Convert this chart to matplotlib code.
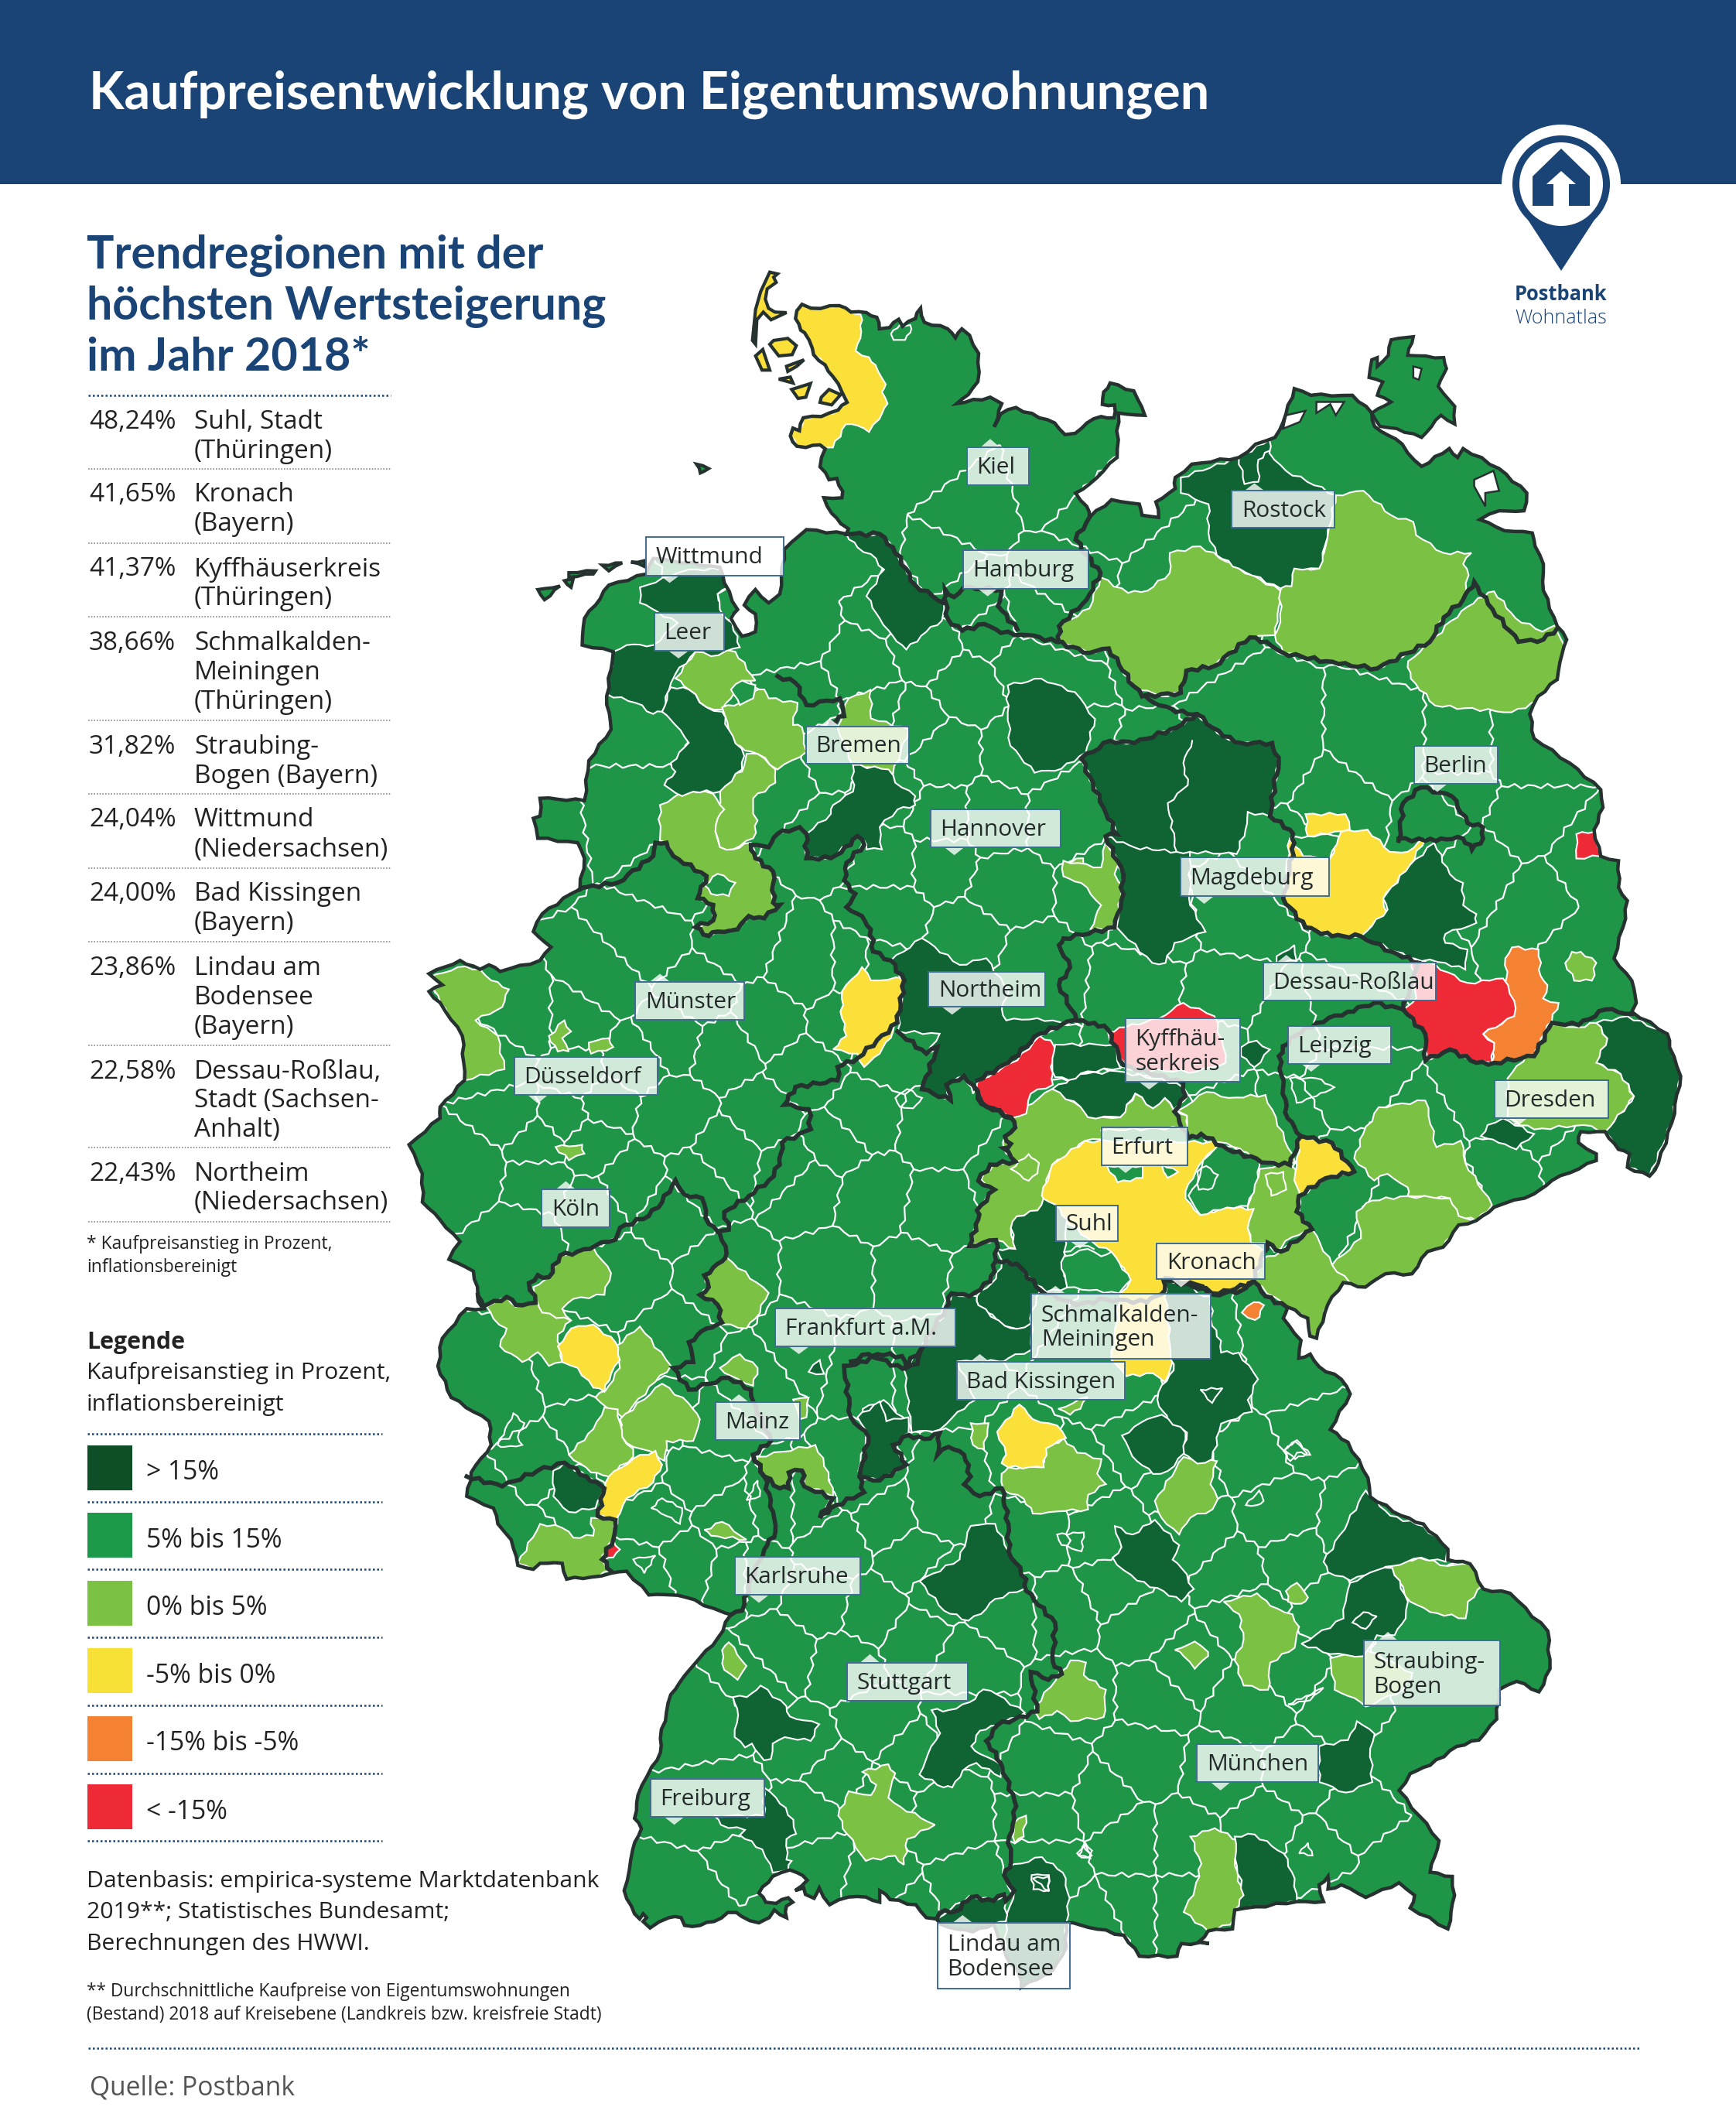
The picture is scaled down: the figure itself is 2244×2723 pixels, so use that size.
import numpy as np
import matplotlib
matplotlib.use('Agg')
import matplotlib.pyplot as plt
from matplotlib.patches import Polygon, Rectangle, Circle
from matplotlib.collections import LineCollection
from matplotlib.tri import Triangulation

plt.rcParams['font.family'] = ['Open Sans', 'DejaVu Sans']
W, H = 2244, 2723

# reading frames of the picture: x0, y0, x scale, y scale (to full pixels)
FR = {'a': (0, 0, .7156, .574), 'b': (1122, 0, .7156, .574), 'c': (500, 650, .574, .574),
      'd': (1300, 900, .574, .574), 'e': (500, 1500, .574, .5102), 'f': (1200, 1750, .574, .5422),
      'g': (780, 2150, .4464, .3333), 'h': (950, 330, .3333, .3333), 'i': (1100, 1350, .3827, .3827),
      'j': (0, 1650, .574, .684), 'p': (0, 0, 1.7368, 1.7368)}

COLORS = {'dark': '#106332', 'mid': '#1f9548', 'light': '#7bc143', 'yellow': '#fbe03a',
          'orange': '#f58233', 'red': '#ee2a36'}
NAVY = '#1a4475'
EDGE = '#25322f'

OUTLINE = [
 ('h', [(240,215),(260,190),(295,205),(405,195),(450,220),(510,222),(550,240),(560,285),(600,280),(635,248),(650,275),(700,245),(720,205),(735,260),(825,285),(855,320),(880,285),(910,310),(945,380),(942,490),(905,540),(860,575),(990,550),(1035,575),(1020,630),(1005,665),(1030,615),(1090,590),(1180,630),(1240,650),(1280,695),(1320,690),(1365,650),(1420,625),(1470,630),(1472,580),(1425,578),(1430,530),(1455,495)]),
 ('b', [(480,880),(500,935),(452,930),(450,1030),(400,1090),(375,1110),(395,1140),(400,1165),(440,1125),(490,1135),(495,1160),(525,1165),(520,1130),(555,1100),(555,1075),(585,1045),(670,1030),(700,1000),(735,985),(750,950),(770,875),(800,890),(875,890),(910,930),(915,960),(965,1000),(975,1020),(1000,1050),(1050,1010),(1065,1030),(1075,1010),(1140,1055),(1190,1110),(1185,1150),(1140,1150),(1105,1170),(1150,1195),(1200,1200),(1205,1230),(1220,1270),(1220,1330),(1245,1410),(1262,1440),(1250,1490),(1245,1530),(1210,1568)]),
 ('d', [(1180,40),(1190,95),(1270,150),(1340,210),(1345,250),(1325,300),(1340,360),(1380,370),(1380,430),(1400,460),(1390,520),(1370,590),(1410,640),(1420,690),(1410,710),(1490,760),(1495,790),(1520,855),(1500,960),(1470,1050),(1450,1080),(1400,1060),(1405,1030),(1380,1020),(1350,980),(1295,980),(1290,1005),(1330,1030),(1330,1045),(1230,1090),(1190,1120),(1100,1150),(1060,1180),(1020,1190),(985,1240),(950,1250),(915,1300),(855,1300),(810,1330),(760,1320),(725,1370),(700,1445),(685,1440),(680,1400),(635,1375),(625,1400),(665,1450),(660,1490)]),
 ('f', [(860,0),(880,30),(930,60),(950,95),(905,180),(945,210),(990,295),(995,340),(1065,385),(1115,405),(1170,465),(1170,490),(1220,500),(1250,560),(1310,570),(1395,660),(1400,750),(1375,805),(1325,780),(1285,800),(1280,870),(1240,920),(1190,935),(1130,980),(1085,1000),(1060,1040),(1105,1100),(1150,1160),(1130,1235),(1180,1245),(1185,1290),(1170,1370),(1085,1320),(1095,1290),(1060,1260),(985,1295),(930,1265),(900,1275),(900,1245),(880,1265),(890,1305),(830,1305),(690,1325),(685,1370),(630,1375),(610,1400),(632,1405),(570,1405),(560,1435),(475,1435),(440,1385),(340,1360)]),
 ('g', [(1340,1005),(1340,1100),(1300,1190),(1210,1255),(1205,1210),(1165,1130),(1130,1010),(1070,1040),(1025,1030),(975,1010),(965,990),(935,985),(905,935),(830,915),(800,880),(800,925),(760,905),(710,905),(655,935),(625,870),(610,910),(585,895),(580,870),(555,880),(590,840),(560,810),(540,800),(490,825),(450,890),(470,925),(500,930),(535,908),(548,925),(530,940),(530,985),(495,955),(480,985),(450,1005),(400,980),(385,965),(360,965),(320,1000),(280,1015),(235,1015),(225,985),(190,985),(135,1025),(115,1000),(125,985),(115,970),(105,990),(90,970),(60,880),(75,800),(85,720),(110,640),(90,600),(100,510),(140,400),(165,345),(165,290),(195,120),(220,75),(265,0)]),
 ('e', [(745,1210),(775,1150),(760,1145),(670,1105),(640,1100),(590,1100),(540,1040),(505,1045),(460,1055),(405,1060),(395,1020),(345,1020),(330,1035),(295,1025),(280,960),(250,920),(240,880),(180,850),(190,790),(235,720),(230,660),(145,600),(115,520),(125,450),(180,375),(220,375),(205,340),(195,280),(140,250),(165,205),(120,150),(80,105)]),
 ('c', [(80,1510),(50,1445),(120,1385),(120,1360),(175,1300),(170,1200),(120,1125),(95,1100),(125,1085),(95,1060),(165,1030),(210,1050),(230,1040),(255,1055),(345,1030),(370,1000),(330,965),(350,925),(415,880),(435,870),(445,800),(430,765),(340,755),(330,710),(345,705),(345,665),(445,670),(455,580),(505,510),(495,435),(510,335),(440,320),(445,260),(470,230),(500,185),(585,160),(600,125),(750,145),(760,180),(790,240),(775,260),(800,300),(830,290),(830,250),(805,230),(830,195),(860,225),(885,205),(895,105),(945,60),(1035,70)]),
 ('h', [(440,1060),(410,1040),(375,1000),(345,940),(415,940),(418,915),(395,865),(365,870),(330,820),(350,750),(330,735),(275,745),(240,740),(215,700),(225,670),(250,680),(265,630),(335,625),(400,600),(435,570),(415,530),(380,470),(350,425),(305,385),(300,360),(270,300),(255,290),(235,245)]),
]

ISLANDS_YELLOW = [
 ('h', [(135,65),(165,72),(150,85),(160,105),(125,130),(118,170),(130,205),(155,220),(200,222),(140,250),(110,220),(85,250),(80,345),(68,330),(80,210),(100,140)]),
 ('h', [(135,345),(150,330),(205,322),(238,350),(222,385),(170,390)]),
 ('h', [(80,390),(108,365),(135,445),(105,445)]),
 ('h', [(335,550),(365,520),(410,540),(375,580),(330,570)]),
 ('h', [(220,520),(293,497),(275,550),(245,555)]),
 ('h', [(170,480),(215,472),(225,495)]),
 ('h', [(200,430),(268,405),(240,430),(205,450)]),
]
ISLANDS_GREEN = [
 ('a', [(1258,1045),(1280,1055),(1265,1065)]),
 ('c', [(340,195),(390,187),(355,218)]),
 ('c', [(400,175),(420,170),(415,190)]),
 ('c', [(410,157),(470,153),(465,160),(410,167)]),
 ('c', [(485,140),(530,135),(500,153)]),
 ('c', [(550,133),(580,130),(580,143)]),
 ('b', [(945,765),(985,758),(975,800),(1040,805),(1045,830),(1030,870),(1060,915),(1060,955),(1035,935),(1000,985),(955,965),(925,960),(910,930),(945,905),(920,890),(930,860),(905,850),(910,810),(920,805),(920,825),(940,800)]),
]
WATER = [
 ('b', [(1095,1080),(1130,1060),(1140,1105),(1115,1110),(1115,1140),(1095,1095)]),
 ('b', [(755,935),(790,925),(780,950),(750,965)]),
 ('b', [(810,905),(860,905),(845,935),(835,910),(810,930)]),
 ('b', [(985,825),(1000,830),(995,855),(985,850)]),
]

DARK = [
 ('c', [(1035,70),(1110,70),(1140,100),(1190,185),(1255,225),(1250,265),(1215,290),(1170,330),(1140,300),(1110,260),(1080,210),(1120,150),(1090,115),(1060,100)]),
 ('c', [(570,190),(640,165),(680,150),(750,150),(770,190),(745,205),(760,245),(790,300),(795,325),(730,345),(695,335),(650,385),(640,405),(620,470),(600,475),(560,450),(495,430),(510,335),(540,320),(600,320),(655,270),(610,245),(570,225)]),
 ('c', [(640,415),(680,420),(720,460),(755,470),(770,510),(805,570),(800,600),(750,650),(690,650),(665,660),(625,635),(650,605),(640,585),(680,540),(650,500),(620,470)]),
 ('c', [(1050,590),(1130,600),(1145,630),(1190,660),(1190,680),(1150,690),(1110,730),(1115,780),(1080,780),(1075,760),(1055,755),(1000,800),(945,800),(945,745),(1000,700),(1005,680),(1050,650)]),
 ('p', [(750,510),(775,505),(800,515),(815,535),(808,560),(790,572),(770,575),(752,555),(750,530)]),
 ('d', [(170,140),(235,100),(290,105),(385,70),(430,40),(490,90),(530,105),(600,105),(615,150),(605,200),(595,270),(545,260),(540,300),(520,355),(415,350),(415,470),(450,530),(380,555),(360,600),(330,600),(250,520),(265,400),(225,315),(250,310),(220,250)]),
 ('d', [(965,330),(1000,400),(1030,420),(1030,470),(1060,490),(1060,510),(990,535),(990,555),(1040,570),(1035,615),(990,600),(920,590),(880,575),(800,540),(860,480),(850,455),(910,380)]),
 ('c', [(1135,1030),(1205,980),(1290,1040),(1350,1025),(1400,1100),(1385,1140),(1395,1165),(1465,1160),(1568,1180),(1545,1165),(1470,1200),(1420,1255),(1330,1300),(1320,1330),(1300,1290),(1260,1310),(1270,1345),(1205,1320),(1240,1225),(1215,1240),(1245,1195),(1150,1190),(1165,1080)]),
 ('i', [(680,150),(770,100),(900,90),(1100,130),(1140,170),(1090,220),(1060,180),(1020,215),(960,165),(910,245),(800,245),(775,210)]),
 ('i', [(690,0),(890,0),(910,80),(800,90),(735,120),(690,110),(680,70)]),
 ('d', [(530,790),(565,775),(595,795),(560,835),(530,810)]),
 ('d', [(610,585),(650,560),(655,595),(610,600)]),
 ('b', [(565,1075),(670,1030),(725,990),(725,1020),(755,1060),(845,1115),(830,1210),(815,1280),(770,1280),(765,1320),(745,1325),(670,1280),(630,1250),(615,1200),(615,1135),(565,1110)]),
 ('d', [(1330,735),(1400,720),(1490,760),(1520,855),(1500,960),(1450,1080),(1400,1060),(1405,1030),(1380,1020),(1350,980),(1400,920),(1415,900),(1385,850),(1330,825),(1355,770)]),
 ('d', [(1085,965),(1120,950),(1190,985),(1150,1020),(1110,1005),(1070,990)]),
 ('e', [(375,785),(400,765),(450,800),(490,830),(470,880),(410,890),(375,850)]),
 ('i', [(650,520),(690,540),(730,590),(720,700),(720,760),(730,820),(660,835),(620,810),(560,740),(510,730),(490,690),(555,690),(540,620),(560,580),(630,560)]),
 ('i', [(510,735),(560,740),(640,830),(610,900),(610,950),(560,960),(520,950),(430,880),(425,850),(490,790)]),
 ('i', [(340,840),(390,850),(425,850),(430,880),(520,950),(560,960),(610,940),(610,1030),(530,1060),(500,1070),(360,1070),(420,1200),(360,1240),(300,1300),(205,1310),(180,1100),(235,1030),(320,900)]),
 ('i', [(40,1230),(110,1200),(140,1230),(190,1270),(205,1310),(135,1320),(185,1400),(125,1440),(40,1470),(25,1440),(50,1330)]),
 ('i', [(1060,800),(1160,810),(1170,840),(1215,850),(1220,950),(1250,1000),(1250,1040),(1310,1040),(1375,1130),(1340,1200),(1355,1240),(1250,1280),(1220,1400),(1170,1415),(1120,1380),(1135,1310),(1070,1270),(1055,1240),(1035,1200),(1050,1150),(1090,1100),(1080,1040)]),
 ('i', [(915,1320),(1000,1265),(1050,1250),(1130,1310),(1125,1380),(1070,1440),(1020,1450),(950,1390)]),
 ('f', [(415,485),(435,460),(420,410),(460,430),(510,395),(565,455),(550,490),(570,510),(598,560),(570,590),(530,565),(470,540),(440,515)]),
 ('f', [(985,325),(1040,385),(1115,410),(1170,465),(1165,495),(1110,485),(1045,505),(1000,520),(950,540),(900,520),(890,495),(945,400)]),
 ('f', [(950,545),(1010,515),(1045,510),(1080,590),(1075,630),(1050,670),(1010,670),(980,720),(905,715),(840,690),(935,630),(940,590)]),
 ('f', [(690,1150),(735,1145),(800,1190),(825,1250),(830,1305),(690,1325),(710,1290),(695,1220)]),
 ('f', [(965,875),(1005,905),(995,940),(1000,1020),(940,1045),(880,1020),(880,935),(945,920)]),
 ('g', [(1170,790),(1270,750),(1330,810),(1350,910),(1340,1005),(1340,1100),(1300,1190),(1210,1255),(1205,1210),(1165,1130),(1165,1000),(1190,880),(1160,820)]),
 ('g', [(965,990),(1060,900),(1130,920),(1165,895),(1165,1000),(1130,1010),(1070,1040),(1025,1030),(975,1010)]),
 ('g', [(455,85),(530,165),(540,205),(580,220),(625,235),(600,300),(525,285),(490,310),(485,370),(465,375),(430,310),(410,325),(380,285),(390,200),(375,130),(415,130)]),
 ('g', [(465,480),(500,520),(550,605),(558,660),(530,680),(530,760),(545,765),(535,800),(490,810),(460,720),(395,665),(410,645),(340,625),(320,590),(465,590)]),
 ('g', [(1100,100),(1140,120),(1220,190),(1140,240),(1090,260),(1065,320),(1090,350),(1150,390),(1150,440),(1080,385),(1040,415),(1010,480),(985,480),(915,430),(940,350),(975,270),(950,180),(1000,180),(1060,150)]),
 ('e', [(1200,1065),(1290,1010),(1315,925),(1370,920),(1400,990),(1440,1060),(1435,1085),(1370,1110),(1350,1135),(1310,1165),(1255,1140)]),
 ('e', [(1060,650),(1110,610),(1125,660),(1175,650),(1175,690),(1140,720),(1170,770),(1110,810),(1065,800),(1085,700)]),
 ('e', [(950,535),(975,505),(985,540)]),
]

LIGHT = [
 ('b', [(345,1440),(345,1410),(400,1370),(420,1300),(470,1335),(505,1330),(545,1290),(545,1245),(600,1230),(670,1280),(745,1330),(740,1400),(735,1430),(690,1435),(625,1500),(575,1510),(565,1560),(530,1568),(478,1545),(435,1460),(400,1470)]),
 ('b', [(745,1330),(770,1280),(815,1280),(830,1210),(845,1115),(895,1105),(945,1160),(985,1175),(990,1205),(1040,1245),(1090,1245),(1075,1270),(1085,1295),(1075,1350),(1040,1390),(1015,1445),(975,1470),(920,1505),(850,1495),(750,1470),(735,1430),(745,1400)]),
 ('p', [(1048,492),(1065,478),(1080,462),(1100,445),(1112,440),(1128,460),(1148,470),(1158,465),(1166,487),(1160,510),(1150,520),(1125,530),(1090,527),(1068,525),(1050,505)]),
 ('c', [(650,395),(695,335),(785,335),(830,400),(800,400),(775,440),(755,465),(720,460),(680,420)]),
 ('c', [(755,460),(795,450),(825,425),(850,420),(860,440),(925,450),(915,500),(935,505),(945,560),(880,600),(835,565),(780,545),(770,510)]),
 ('c', [(810,565),(835,565),(875,600),(875,630),(825,665),(825,700),(835,715),(825,755),(780,780),(750,775),(740,740),(745,710),(755,620),(800,605)]),
 ('c', [(615,680),(680,645),(735,655),(760,690),(745,710),(740,740),(750,775),(780,780),(820,765),(830,800),(870,830),(870,900),(885,905),(850,935),(815,930),(790,960),(745,965),(725,975),(695,955),(735,940),(735,905),(700,890),(720,840),(645,795),(630,765),(615,760)]),
 ('c', [(1040,440),(1090,420),(1090,485),(1175,510),(1140,610),(1050,590),(1015,505)]),
 ('c', [(95,1070),(160,1045),(210,1050),(235,1075),(275,1095),(260,1135),(200,1165),(250,1200),(265,1275),(175,1300),(170,1200),(120,1125)]),
 ('c', [(365,1200),(400,1165),(415,1190),(395,1205),(410,1235),(385,1235)]),
 ('c', [(455,1215),(500,1205),(510,1225),(460,1240)]),
 ('c', [(380,1450),(440,1445),(445,1465),(410,1480)]),
 ('c', [(1525,810),(1568,800),(1568,845),(1530,840)]),
 ('d', [(130,370),(215,385),(225,330),(260,370),(245,400),(265,430),(260,470),(240,525),(190,525),(215,470),(170,420),(130,405)]),
 ('i', [(540,245),(680,150),(775,210),(800,245),(910,245),(960,165),(1020,215),(1060,180),(1090,220),(1135,240),(1140,280),(845,290),(845,320),(790,325),(740,370),(680,405),(645,510),(655,520),(630,560),(560,580),(540,620),(555,690),(490,660),(400,680),(430,590),(420,560),(480,490),(440,455),(480,405),(555,395),(515,350),(520,310),(560,275)]),
 ('i', [(1110,220),(1200,160),(1275,180),(1400,170),(1500,400),(1470,405),(1380,390),(1290,345),(1245,330),(1190,310),(1140,310),(1135,240),(1090,220)]),
 ('i', [(1340,545),(1380,420),(1470,405),(1500,420),(1515,510),(1520,580),(1555,620),(1490,650),(1430,700),(1400,670),(1350,670),(1340,620)]),
 ('d', [(805,985),(840,925),(945,910),(970,1015),(1025,1000),(1035,1050),(1095,1145),(1060,1180),(1020,1170),(1000,1130),(905,1125),(905,1105),(860,1075),(830,1090),(785,1040)]),
 ('d', [(790,1160),(825,1135),(905,1125),(1000,1130),(1020,1170),(1060,1180),(1020,1190),(985,1240),(950,1250),(915,1300),(855,1300),(810,1330),(760,1320),(735,1280),(800,1220)]),
 ('d', [(575,1270),(620,1250),(690,1200),(735,1280),(775,1320),(725,1370),(700,1445),(685,1440),(680,1400),(635,1375),(560,1320)]),
 ('d', [(1130,860),(1230,740),(1290,745),(1330,735),(1355,770),(1335,825),(1385,850),(1415,900),(1380,950),(1355,980),(1300,965),(1190,975),(1130,950)]),
 ('d', [(1260,600),(1275,575),(1295,575),(1330,600),(1320,640),(1280,640)]),
 ('e', [(225,370),(270,345),(290,370),(335,360),(415,405),(385,440),(395,510),(365,520),(340,485),(305,510),(255,470),(270,425),(240,400)]),
 ('e', [(330,320),(365,295),(390,240),(430,230),(465,220),(505,285),(490,340),(420,350),(395,375),(415,405),(350,385),(335,345)]),
 ('e', [(470,600),(500,570),(525,525),(515,470),(570,420),(640,520),(605,560),(530,650),(495,625)]),
 ('e', [(525,655),(620,565),(680,615),(705,655),(690,710),(630,710),(625,760),(590,735),(555,725),(530,700)]),
 ('e', [(410,745),(465,680),(490,625),(520,630),(530,700),(555,730),(555,750),(500,800),(460,790)]),
 ('e', [(295,1020),(345,920),(395,930),(420,955),(465,950),(460,905),(515,910),(510,960),(485,1010),(505,1040),(460,1055),(405,1060),(395,1020),(345,1020),(330,1035)]),
 ('e', [(715,290),(765,245),(860,335),(830,400),(810,425),(755,415),(745,365),(705,340),(725,320)]),
 ('e', [(750,525),(795,490),(835,525),(825,570),(775,545)]),
 ('e', [(915,605),(950,600),(945,650),(930,655)]),
 ('e', [(835,750),(965,720),(995,790),(1005,850),(940,820),(935,785),(905,790),(905,830),(885,830),(850,800),(830,770)]),
 ('e', [(975,905),(1000,850),(1010,875)]),
 ('e', [(715,935),(755,915),(810,960),(730,950)]),
 ('e', [(1315,665),(1355,665),(1345,730),(1320,720)]),
 ('e', [(755,1240),(770,1220),(810,1280),(790,1315),(760,1290)]),
 ('f', [(165,285),(180,270),(255,270),(265,225),(305,200),(335,235),(390,250),(380,285),(400,310),(360,335),(360,370),(290,375),(235,380),(215,345),(170,325)]),
 ('f', [(510,350),(575,245),(650,255),(635,310),(652,345),(640,370),(590,390),(565,430),(525,390)]),
 ('f', [(665,590),(740,570),(770,600),(820,620),(835,650),(825,700),(770,735),(765,800),(710,790),(690,730),(710,680),(700,620)]),
 ('f', [(555,705),(600,685),(630,710),(630,720),(600,750),(575,720)]),
 ('f', [(805,565),(830,545),(855,580),(840,595),(810,590)]),
 ('f', [(1040,505),(1105,485),(1170,505),(1220,500),(1250,550),(1215,590),(1210,630),(1130,615),(1085,590)]),
 ('f', [(905,725),(980,700),(1090,760),(1070,800),(985,840),(960,820),(915,800)]),
 ('f', [(240,840),(320,730),(355,735),(350,765),(400,800),(395,865),(320,875),(290,850),(250,870)]),
 ('f', [(190,1120),(220,1100),(215,1150),(195,1165)]),
 ('f', [(590,1150),(645,1130),(700,1160),(690,1220),(710,1290),(680,1360),(630,1375),(575,1330),(600,1275),(615,1215)]),
 ('g', [(750,420),(825,390),(845,425),(825,520),(860,555),(960,625),(880,680),(870,780),(845,745),(760,765),(705,660),(680,590),(710,495),(775,510),(790,470)]),
 ('i', [(700,1230),(800,1190),(775,1230),(740,1250)]),
]

YELLOW = [
 ('h', [(240,215),(260,190),(295,205),(405,195),(450,220),(487,228),(490,295),(468,370),(520,395),(545,425),(585,500),(570,530),(592,575),(560,635),(520,685),(475,660),(430,655),(380,745),(355,745),(330,735),(275,745),(240,740),(215,700),(225,670),(250,680),(265,630),(335,625),(400,600),(435,570),(415,530),(380,470),(350,425),(305,385),(300,360),(270,300),(255,290),(235,245)]),
 ('c', [(1025,1100),(1070,1045),(1090,1075),(1165,1070),(1165,1100),(1150,1170),(1140,1190),(1110,1240),(1075,1270),(1060,1240),(1005,1230),(1035,1200),(1025,1160)]),
 ('d', [(640,320),(670,320),(670,360),(730,365),(755,305),(815,300),(865,350),(905,350),(945,320),(910,380),(850,455),(860,490),(800,540),(735,540),(675,520),(625,455)]),
 ('d', [(675,265),(765,265),(775,300),(725,310),(680,315)]),
 ('d', [(665,990),(735,1005),(785,1070),(720,1085),(665,1125),(650,1090),(655,1040)]),
 ('i', [(645,510),(680,405),(790,325),(1245,330),(1190,390),(1140,470),(1130,520),(1180,575),(1270,550),(1360,555),(1340,620),(1350,670),(1400,700),(1360,800),(1320,830),(1225,845),(1165,810),(1060,795),(1090,1060),(1060,1140),(1020,1110),(930,1120),(880,1065),(910,840),(945,795),(880,700),(820,670),(720,590),(690,540),(650,520)]),
 ('e', [(385,470),(415,425),(465,415),(515,460),(525,505),(505,540),(490,585),(465,575),(430,525),(395,510)]),
 ('e', [(500,800),(555,755),(605,735),(620,770),(600,815),(540,855),(515,910),(475,900),(490,830)]),
 ('f', [(155,185),(205,120),(235,155),(290,170),(310,200),(265,225),(260,270),(180,270),(165,260),(175,240)]),
]
ORANGE = [
 ('d', [(1125,590),(1140,565),(1200,570),(1205,630),(1220,650),(1210,680),(1245,690),(1230,730),(1205,770),(1190,810),(1095,825),(1100,780),(1075,760),(1145,720),(1145,685),(1120,660),(1130,620)]),
 ('i', [(1320,905),(1360,870),(1395,880),(1380,920),(1365,930)]),
]
RED = [
 ('d', [(895,705),(925,680),(915,590),(935,590),(1040,645),(1090,640),(1120,635),(1145,685),(1145,720),(1075,760),(1100,780),(1095,825),(1060,825),(1000,795),(945,820),(945,760)]),
 ('d', [(1285,310),(1325,305),(1340,360),(1285,365)]),
 ('d', [(230,755),(270,745),(345,725),(400,690),(470,720),(490,790),(495,825),(430,845),(270,840),(245,790)]),
 ('c', [(1470,1200),(1495,1210),(1508,1240),(1495,1270),(1500,1310),(1450,1330),(1440,1375),(1405,1385),(1340,1350),(1325,1310),(1400,1260),(1440,1230)]),
 ('e', [(485,1000),(510,960),(525,985),(510,1005),(490,1010)]),
]
GREEN_PATCHES = [
 ('c', [(745,205),(770,190),(790,240),(770,265),(750,240)]),
 ('c', [(775,420),(800,400),(830,410),(825,440),(795,455)]),
 ('c', [(715,860),(745,835),(785,855),(770,885),(730,880)]),
 ('i', [(865,410),(985,410),(985,450),(900,465)]),
 ('i', [(1050,405),(1105,430),(1070,450)]),
 ('i', [(720,715),(800,690),(845,715),(880,700),(945,795),(905,840),(730,820),(710,735)]),
 ('i', [(1140,510),(1170,470),(1190,390),(1245,335),(1290,345),(1380,390),(1375,450),(1340,545),(1270,550),(1180,575)]),
 ('d', [(640,320),(680,315),(725,310),(750,315),(730,365),(670,360)]),
]
CITY_RINGS = [
 ('e', [(250,720),(285,640),(310,665),(295,700),(305,720),(265,725)]),
 ('e', [(595,880),(620,855),(665,880),(660,920),(630,900)]),
 ('e', [(555,1010),(605,1000),(580,1045)]),
 ('f', [(290,430),(350,425),(345,470),(300,455)]),
 ('f', [(800,230),(830,205),(860,240),(830,235),(815,255)]),
 ('f', [(715,360),(745,325),(755,350),(740,360)]),
 ('f', [(810,835),(850,815),(890,795),(860,825)]),
 ('f', [(335,1190),(355,1170),(368,1195),(345,1200)]),
 ('f', [(835,1190),(855,1165),(865,1195)]),
 ('f', [(955,640),(980,615),(1010,625),(985,655)]),
 ('f', [(235,1250),(270,1245),(272,1280)]),
 ('g', [(1240,820),(1290,820),(1290,880),(1245,875)]),
 ('g', [(1375,745),(1395,695),(1415,725),(1410,755)]),
 ('i', [(150,180),(190,150),(240,180),(210,215),(165,210)]),
 ('i', [(1465,1370),(1500,1340),(1540,1380),(1500,1400)]),
 ('i', [(1180,1165),(1255,1160),(1220,1210)]),
 ('d', [(640,860),(700,860),(740,880),(700,900),(655,915)]),
 ('i', [(540,420),(600,370),(635,400),(630,435),(600,460)]),
 ('i', [(1400,440),(1460,430),(1470,490),(1420,510)]),
 ('i', [(1170,430),(1200,410),(1240,440),(1220,485),(1175,490)]),
 ('e', [(810,860),(835,810),(840,850)]),
 ('h', [(605,305),(640,270),(680,270),(680,300),(660,328),(615,328)]),
]
# borders between neighbouring dark districts
INNER_WHITE = [
 ('d', [(420,100),(400,150),(410,200),(365,240),(385,350)]),
 ('d', [(225,315),(290,340),(385,350),(415,350)]),
 ('b', [(670,1030),(680,1090),(705,1085),(705,1035),(725,1015)]),
 ('i', [(720,700),(780,680),(820,690)]),
]

STATE_LINES = [
 [('b', [(140,1355),(145,1395),(170,1420),(210,1405),(240,1425),(290,1430),(340,1445),(400,1470),(435,1460),(480,1545),(495,1568),(565,1560),(575,1510),(625,1500),(690,1435),(720,1445),(750,1470),(850,1495),(920,1505),(975,1470),(1015,1445),(1040,1390),(1075,1350),(1095,1310),(1120,1360),(1175,1445),(1220,1440),(1245,1415)])],
 [('c', [(1035,70),(1110,70),(1140,100),(1190,185),(1255,225)])],
 [('h', [(805,1345),(815,1295),(850,1325),(885,1290),(1035,1295),(1020,1360),(1095,1450)])],
 [('b', [(400,1165),(375,1215),(395,1250),(420,1290),(395,1350),(345,1410),(345,1445)])],
 [('c', [(880,390),(920,405),(945,455),(1020,440),(1030,480),(1000,495)])],
 [('d', [(385,70),(430,40),(490,90),(530,105),(600,105),(615,150),(605,200),(595,270),(640,300),(650,330),(625,455),(675,520),(735,540),(800,540),(870,575),(930,600),(895,705),(945,760),(945,820),(1000,795),(1060,825),(1100,825),(1190,810),(1230,735),(1290,740),(1350,705),(1410,715)])],
 [('d', [(315,0),(345,20),(410,40),(430,40)])],
 [('d', [(385,70),(290,105),(235,100),(170,140),(220,250),(250,310),(225,315),(265,400),(260,460),(245,520),(130,545),(120,560),(145,610),(120,650),(160,730),(200,735),(230,750),(265,830),(400,870),(405,900),(380,935),(410,995),(440,985),(500,1020),(590,1050),(640,1055),(665,990),(735,1005),(785,1070),(720,1085),(660,1125),(655,1160),(690,1200),(620,1250),(590,1230),(555,1320),(480,1345),(360,1310)])],
 [('d', [(895,705),(830,690),(770,710),(700,735),(640,770),(615,810),(625,880),(635,950),(665,990)])],
 [('d', [(885,325),(895,240),(935,205),(1005,225),(1040,285),(1075,295),(1075,320),(1050,345),(1030,320),(980,320),(945,325),(885,320)])],
 [('c', [(1165,1075),(1135,1030),(1095,1010),(1090,960),(1070,930),(1035,910),(1055,880),(1030,850),(1035,810),(1075,770),(1060,750),(1045,770),(1000,800),(945,800),(945,745),(930,730),(880,745),(860,775),(820,770),(830,800),(870,830),(870,900),(885,905),(850,935),(815,930),(790,960),(745,965),(725,975),(695,955),(735,940),(735,905),(700,890),(720,840),(645,795),(630,765),(605,765),(600,795),(520,855),(450,865),(435,870)])],
 [('c', [(1165,1075),(1150,1170),(1060,1250),(1015,1270),(1015,1300),(920,1315),(895,1355),(950,1365),(955,1410),(890,1440),(885,1490)]),
  ('e', [(860,50),(815,90),(760,130),(770,175),(745,180),(725,160),(710,95),(670,85),(650,50),(620,105),(590,140),(525,170),(515,200),(470,215),(430,230),(390,240),(365,295),(340,290),(320,310),(335,360),(290,365),(270,345),(215,370),(205,340)])],
 [('e', [(750,185),(765,235),(755,255),(715,290),(725,320),(705,340),(745,365),(755,410),(720,425),(680,460),(690,510),(645,525),(680,580),(770,550),(820,580),(825,610),(865,710),(825,745),(850,800),(870,890),(875,940),(850,985),(820,1060),(800,1140),(775,1150)])],
 [('c', [(1150,1190),(1215,1240),(1240,1225),(1205,1320),(1270,1345),(1260,1310),(1300,1290),(1320,1310),(1340,1350),(1405,1385)])],
 [('c', [(1545,1165),(1470,1195),(1400,1260),(1330,1300)])],
 [('i', [(415,140),(440,200),(540,245),(555,280),(520,310),(540,335),(515,350),(555,395),(470,405),(430,460),(485,490),(425,560),(430,590),(400,680),(490,660),(490,730),(510,735),(560,740),(640,830),(760,880),(860,860),(1000,870),(1060,830),(1055,795),(1165,810),(1225,845),(1320,830),(1360,800),(1400,850),(1470,885)])],
 [('i', [(490,730),(470,800),(400,850),(340,840),(320,890),(235,1030),(175,1095),(60,1045),(0,1070)])],
 [('e', [(1030,520),(1080,510),(1105,490),(1160,495),(1170,525),(1195,515),(1205,475)])],
 [('e', [(1030,520),(1045,650),(1085,700),(1065,800),(1110,810),(1170,770),(1140,720),(1175,695),(1210,705),(1245,690),(1240,745),(1265,725),(1300,745),(1315,800),(1300,820),(1335,850),(1385,830),(1400,920),(1400,990),(1440,1060),(1440,1090),(1505,1170),(1500,1270),(1520,1300),(1490,1315),(1450,1295),(1465,1395),(1375,1430),(1350,1470)]),
  ('g', [(1115,310),(1150,385),(1165,440),(1190,530),(1190,600),(1175,670),(1180,770),(1160,820),(1190,880),(1165,920),(1160,895),(1130,920),(1065,905),(1020,960),(975,965),(965,990)])],
 [('e', [(825,745),(850,800),(885,830),(905,830),(905,790),(935,785),(940,825),(1005,855),(975,905),(1000,880),(1075,840),(1065,800)])],
 [('e', [(180,800),(260,825),(340,785),(400,765),(450,800),(490,830),(475,900),(515,910),(510,960),(485,1010),(505,1040)])],
]

# Kreis centres
KREIS_X = [690,790,790,640,700,665,720,770, 590,600,650,690,720,760,700,660,740,580, 470,470,560,620,400,500,
           700,750,790,820,660,720,770,640, 860,920,850,910,960,1000,900, 940,1000,1030,1130,1150,1100,1180,1030,960,
           870,990,1060, 1070, 1000,1060,1110,1170,1000,1040,
           370,430,480,550,600,650,540,600,660,400,350,440,500,540,590,470,440,390,460,500,430,420,
           640,700,600,650,700,750,620,680,730,600,640,690,
           430,500,540,370,400,470,530,520,360,400,
           580,620,660,700,560,610,650,700,750,580,630,680,530,600,650,720,540,600,660,700,520,580,650,720,
           800,850,930,970,770,820,890,950,1010,790,850,930,990,1060,800,860,930,1000,1070,780,850,910,970,1050,780,840,880,980,1040,820,
           870,950,
           390,450,520,570,630,500,450,380,400,470,520,570,620,
           440,500,560,430,490,540,510,480,550,
           600,640,680,720,560,620,680,560,610,680,
           830,900,960,780,880,920,960,830,880,960,1030,820,880,940,1010,1000,780,840,
           640,680,620,740,810,720,660,700,760,880,1090,1130,1180,1090,1080,1120,1150,920]
KREIS_Y = [340,360,430,410,420,445,445,460, 470,520,530,480,510,490,560,590,610,580, 530,610,550,620,620,650,
           640,660,610,660,680,700,720,720, 690,680,730,740,770,760,780, 560,600,560,610,670,640,700,700,640,
           450,420,460, 610, 800,850,820,860,880,900,
           790,760,700,700,720,720,780,800,780,850,870,850,830,860,870,790,900,920,950,900,800,830,
           830,840,880,890,900,880,950,950,960,1000,1010,1010,
           1020,1000,950,1040,1090,1090,1060,1100,1120,1150,
           1120,1150,1130,1120,1170,1190,1200,1180,1200,1230,1240,1220,1280,1300,1280,1280,1340,1350,1340,1350,1420,1420,1400,1410,
           1100,1070,1080,1060,1140,1140,1140,1130,1140,1200,1210,1200,1200,1210,1260,1260,1270,1270,1250,1320,1310,1320,1320,1310,1390,1370,1420,1380,1390,1430,
           850,830,
           760,730,740,760,760,770,820,830,880,880,880,830,850,
           1060,1050,1030,1120,1130,1130,1160,1170,1170,
           1120,1100,1160,1240,1250,1320,1310,1390,1390,1430,
           1030,1040,1030,1100,1100,1170,1160,1180,1240,1240,1170,1340,1370,1360,1350,1420,1350,1420,
           500,540,560,470,380,380,640,610,560,600,590,560,650,560,890,870,840,830]

# ---------- labels: text, box frame and corners, pointer tip
LABELS = [
 ('Kiel', 'h', 900,745,1140,892, 990,712),
 ('Rostock', 'b', 657,1105,843,1188, 698,1088),
 ('Hamburg', 'h', 885,1143,1370,1292, 980,1322),
 ('Wittmund', 'c', 583,77,893,163, 637,180),
 ('Leer', 'c', 603,248,760,333, 657,350),
 ('Bremen', 'c', 944,503,1176,587, 997,485),
 ('Hannover', 'c', 1224,690,1517,775, 1278,793),
 ('Münster', 'c', 560,1078,805,1163, 615,1060),
 ('Northeim', 'c', 1220,1055,1482,1135, 1273,1152),
 ('Düsseldorf', 'c', 287,1248,609,1333, 340,1352),
 ('Berlin', 'd', 920,112,1108,197, 972,215),
 ('Magdeburg', 'd', 393,363,728,449, 447,467),
 ('Dessau-Roßlau', 'd', 580,600,968,684, 632,582),
 ('Leipzig', 'd', 636,742,867,827, 688,845),
 ('Kyffhäu-\nserkreis', 'd', 270,725,528,868, 323,885),
 ('Dresden', 'd', 1101,864,1357,949, 1153,967),
 ('Erfurt', 'd', 216,970,410,1055, 270,1073),
 ('Suhl', 'd', 113,1146,252,1226, 167,1243),
 ('Kronach', 'd', 340,1232,583,1312, 395,1330),
 ('Schmalkalden-\nMeiningen', 'd', 58,1345,462,1491, 112,1327),
 ('Bad Kissingen', 'i', 357,1072,925,1200, 435,1045),
 ('Köln', 'e', 349,73,502,169, 403,52),
 ('Frankfurt a.M.', 'e', 875,375,1281,471, 928,490),
 ('Mainz', 'e', 740,612,930,708, 793,592),
 ('Karlsruhe', 'e', 784,1003,1067,1100, 838,1120),
 ('Stuttgart', 'e', 1036,1272,1309,1368, 1088,1250),
 ('Freiburg', 'g', 136,446,466,594, 205,625),
 ('Lindau am\nBodensee', 'g', 968,1005,1351,1260, 1040,975),
 ('München', 'f', 605,930,878,1020, 658,1040),
 ('Straubing-\nBogen', 'f', 981,683,1287,837, 1035,662),
]

# ---------- left column
TITLE = 'Kaufpreisentwicklung von Eigentumswohnungen'
HEADING = ['Trendregionen mit der', 'höchsten Wertsteigerung', 'im Jahr 2018*']
RANK_VALUES = ['48,24%', '41,65%', '41,37%', '38,66%', '31,82%', '24,04%', '24,00%', '23,86%', '22,58%', '22,43%']
RANK_NAMES = [['Suhl, Stadt', '(Thüringen)'], ['Kronach', '(Bayern)'], ['Kyffhäuserkreis', '(Thüringen)'],
              ['Schmalkalden-', 'Meiningen', '(Thüringen)'], ['Straubing-', 'Bogen (Bayern)'],
              ['Wittmund', '(Niedersachsen)'], ['Bad Kissingen', '(Bayern)'],
              ['Lindau am', 'Bodensee', '(Bayern)'], ['Dessau-Roßlau,', 'Stadt (Sachsen-', 'Anhalt)'],
              ['Northeim', '(Niedersachsen)']]
LEGEND_LABELS = ['> 15%', '5% bis 15%', '0% bis 5%', '-5% bis 0%', '-15% bis -5%', '< -15%']
LEGEND_COLORS = ['#0f4f28', '#1c9a4a', '#7bc143', '#f7e137', '#f58233', '#ee2a36']

fig = plt.figure(figsize=(W / 200, H / 200), dpi=200, facecolor='white')
ax = fig.add_axes([0, 0, 1, 1])
ax.set_xlim(0, W)
ax.set_ylim(H, 0)
ax.axis('off')


def conv(frame, pts):
    x0, y0, sx, sy = FR[frame]
    a = np.array(pts, float)
    return np.column_stack((x0 + a[:, 0] * sx, y0 + a[:, 1] * sy))


def wiggle(P, step=14.0, amp=2.2, closed=False):
    P = np.asarray(P)
    if closed:
        P = np.vstack((P, P[:1]))
    out = [P[0]]
    k = 0
    for A, B in zip(P[:-1], P[1:]):
        d = B - A
        L = np.hypot(*d)
        n = int(L // step)
        if n >= 1 and L > 0:
            nrm = np.array([-d[1], d[0]]) / L
            for m in range(1, n + 1):
                k += 1
                out.append(A + d * m / (n + 1) + nrm * amp * np.sin(k * 2.4 + A[0]))
        out.append(B)
    return np.array(out)


def chain(chunks):
    return np.vstack([conv(f, p) for f, p in chunks])


# ---------- banner and logo
ax.add_patch(Rectangle((0, 0), W, 238, fc=NAVY, ec='none', zorder=1))
ax.text(115, 122, TITLE, color='white', fontsize=23.9, fontweight='bold', family='Lato', va='center', ha='left', zorder=2)
cx, cy = 2018, 238
ax.add_patch(Circle((cx, cy), 77, fc='white', ec='none', zorder=2))
ax.add_patch(Polygon([[cx - 60, cy + 20], [cx + 60, cy + 20], [cx, 350]], fc=NAVY, ec='none', zorder=3))
ax.add_patch(Circle((cx, cy), 63, fc=NAVY, ec='none', zorder=3))
ax.add_patch(Circle((cx, cy), 54, fc='white', ec='none', zorder=4))
ax.add_patch(Polygon([[cx, 192], [cx + 37, 228], [cx + 37, 266], [cx - 37, 266], [cx - 37, 228]], fc=NAVY, ec='none', zorder=5))
ax.add_patch(Polygon([[cx, 221], [cx + 19, 238], [cx + 10, 238], [cx + 10, 266], [cx - 10, 266], [cx - 10, 238], [cx - 19, 238]], fc='white', ec='none', zorder=6))
ax.text(cx, 381, 'Postbank', color=NAVY, fontsize=9.2, fontweight='bold', ha='center', va='center')
ax.text(cx, 411, 'Wohnatlas', color=NAVY, fontsize=9.0, fontweight='light', ha='center', va='center')

# ---------- map
outline_xy = wiggle(chain(OUTLINE), step=14, amp=1.5, closed=True)
land = Polygon(outline_xy, closed=True, fc=COLORS['mid'], ec='none', zorder=10)
ax.add_patch(land)

# Kreis borders
kx = np.array(KREIS_X, float) * 1.7368
ky = np.array(KREIS_Y, float) * 1.7368
tri = Triangulation(kx, ky)
t = tri.triangles
ax_, ay_ = kx[t[:, 0]], ky[t[:, 0]]
bx_, by_ = kx[t[:, 1]], ky[t[:, 1]]
cx_, cy_ = kx[t[:, 2]], ky[t[:, 2]]
dd = 2 * (ax_ * (by_ - cy_) + bx_ * (cy_ - ay_) + cx_ * (ay_ - by_))
ux = ((ax_**2 + ay_**2) * (by_ - cy_) + (bx_**2 + by_**2) * (cy_ - ay_) + (cx_**2 + cy_**2) * (ay_ - by_)) / dd
uy = ((ax_**2 + ay_**2) * (cx_ - bx_) + (bx_**2 + by_**2) * (ax_ - cx_) + (cx_**2 + cy_**2) * (bx_ - ax_)) / dd
segs = []
for i, nb in enumerate(tri.neighbors):
    for n in nb:
        if n > i:
            A, B = np.array([ux[i], uy[i]]), np.array([ux[n], uy[n]])
            if np.hypot(*(A - B)) < 420:
                segs.append(wiggle(np.array([A, B]), step=9, amp=3.2))
lc = LineCollection(segs, colors='white', linewidths=0.8, zorder=11)
ax.add_collection(lc)
lc.set_clip_path(land)

for group, col in [(LIGHT, 'light'), (YELLOW, 'yellow'), (ORANGE, 'orange'), (RED, 'red'), (DARK, 'dark')]:
    for f, p in group:
        poly = Polygon(wiggle(conv(f, p), step=11, amp=2.0, closed=True), closed=True, fc=COLORS[col], ec='white', lw=0.75, zorder=12)
        ax.add_patch(poly)
        poly.set_clip_path(land)
for f, p in GREEN_PATCHES:
    poly = Polygon(wiggle(conv(f, p), step=11, amp=1.6, closed=True), closed=True, fc=COLORS['mid'], ec='white', lw=0.75, zorder=13)
    ax.add_patch(poly)
    poly.set_clip_path(land)
for f, p in CITY_RINGS:
    ax.add_patch(Polygon(wiggle(conv(f, p), step=8, amp=1.5, closed=True), closed=True, fc='none', ec='white', lw=0.75, zorder=13))
for f, p in INNER_WHITE:
    xy = wiggle(conv(f, p), step=9, amp=2.0)
    ax.plot(xy[:, 0], xy[:, 1], color='white', lw=0.75, zorder=13)
for f, p in ISLANDS_YELLOW:
    ax.add_patch(Polygon(conv(f, p), closed=True, fc=COLORS['yellow'], ec=EDGE, lw=1.5, zorder=14))
for f, p in ISLANDS_GREEN:
    ax.add_patch(Polygon(wiggle(conv(f, p), step=12, amp=1.2, closed=True), closed=True, fc=COLORS['mid'], ec=EDGE, lw=1.5, zorder=14))
for f, p in WATER:
    ax.add_patch(Polygon(conv(f, p), closed=True, fc='white', ec=EDGE, lw=0.9, zorder=14))
for line in STATE_LINES:
    xy = wiggle(chain(line), step=9, amp=2.4)
    ax.plot(xy[:, 0], xy[:, 1], color=EDGE, lw=2.0, solid_joinstyle='miter', zorder=15)
ax.add_patch(Polygon(outline_xy, closed=True, fc='none', ec=EDGE, lw=1.6, joinstyle='miter', zorder=15))

# ---------- labels on the map
for name, f, x0, y0, x1, y1, tx, ty in LABELS:
    (X0, Y0), (X1, Y1), (TX, TY) = conv(f, [(x0, y0), (x1, y1), (tx, ty)])
    hw = 13
    if TY < Y0:
        shape = [(X0, Y0), (TX - hw, Y0), (TX, TY), (TX + hw, Y0), (X1, Y0), (X1, Y1), (X0, Y1)]
    else:
        shape = [(X0, Y0), (X1, Y0), (X1, Y1), (TX + hw, Y1), (TX, TY), (TX - hw, Y1), (X0, Y1)]
    ax.add_patch(Polygon(shape, closed=True, fc='white', ec='none', alpha=0.8, zorder=20))
    ax.add_patch(Rectangle((X0, Y0), X1 - X0, Y1 - Y0, fc='none', ec='#3f6c93', lw=0.7, zorder=21))
    ax.text(X0 + 12.5, (Y0 + Y1) / 2 + 2, name, fontsize=10.75, color='#232b2a', ha='left', va='center',
            linespacing=1.13, zorder=22)

# ---------- heading
for (s, y) in zip(HEADING, (330, 396, 462)):
    ax.text(112, y, s, color=NAVY, fontsize=21.3, fontweight='bold', family='Lato', ha='left', va='center')


def dotted(x0, x1, y, color='#4a6f8f', lw=0.7):
    ax.plot([x0, x1], [y, y], color=color, lw=lw, ls=(0, (1, 1.2)), zorder=3)


dotted(114, 505, 511, color=NAVY, lw=0.9)
rows = [511, 606, 702, 797, 931, 1026, 1122, 1217, 1351, 1483, 1579]
row_y = 511 + 31
for val, names, bottom in zip(RANK_VALUES, RANK_NAMES, rows[1:]):
    ax.text(115, row_y + 3, val, fontsize=12.0, color='#222222', ha='left', va='center')
    for k, nm in enumerate(names):
        ax.text(251, row_y + 3 + k * 38, nm, fontsize=12.0, color='#222222', ha='left', va='center')
    dotted(114, 505, bottom, color='#8a8a8a', lw=0.6)
    row_y = bottom + 31
ax.text(112, 1608, '* Kaufpreisanstieg in Prozent,', fontsize=8.25, color='#222222', ha='left', va='center')
ax.text(112, 1638, 'inflationsbereinigt', fontsize=8.25, color='#222222', ha='left', va='center')

# ---------- legend
jx = FR['j'][2]
def jy(v):
    return FR['j'][1] + v * FR['j'][3]
ax.text(197 * jx - 1, jy(118) + 4, 'Legende', fontsize=10.9, fontweight='bold', color='#222222', ha='left', va='center')
ax.text(197 * jx - 1, jy(178) + 3, 'Kaufpreisanstieg in Prozent,', fontsize=10.85, color='#222222', ha='left', va='center')
ax.text(197 * jx - 1, jy(237) + 3, 'inflationsbereinigt', fontsize=10.85, color='#222222', ha='left', va='center')
tops = [318, 446, 574, 702, 830, 959]
for top, lab, col in zip(tops, LEGEND_LABELS, LEGEND_COLORS):
    ax.add_patch(Rectangle((197 * jx, jy(top)), 101 * jx, 85 * FR['j'][3], fc=col, ec='none', zorder=3))
    ax.text(330 * jx, jy(top + 45) + 5, lab, fontsize=12.1, color='#222222', ha='left', va='center')
for v in [297, 425, 553, 682, 810, 938, 1066]:
    dotted(197 * jx, 860 * jx, jy(v), color=NAVY, lw=0.9)
for v, s in zip((1138, 1197, 1256), ('Datenbasis: empirica-systeme Marktdatenbank', '2019**; Statistisches Bundesamt;', 'Berechnungen des HWWI.')):
    ax.text(197 * jx - 1, jy(v) + 3, s, fontsize=10.85, color='#222222', ha='left', va='center')
for v, s in zip((1347, 1391), ('** Durchschnittliche Kaufpreise von Eigentumswohnungen', '(Bestand) 2018 auf Kreisebene (Landkreis bzw. kreisfreie Stadt)')):
    ax.text(197 * jx - 1, jy(v) + 3, s, fontsize=8.2, color='#222222', ha='left', va='center')
dotted(199 * jx, 2120, jy(1458), color=NAVY, lw=0.9)
ax.text(205 * jx - 2, jy(1530) + 2, 'Quelle: Postbank', fontsize=12.1, color='#555555', ha='left', va='center')

fig.savefig('out.png', dpi=200, facecolor='white')
